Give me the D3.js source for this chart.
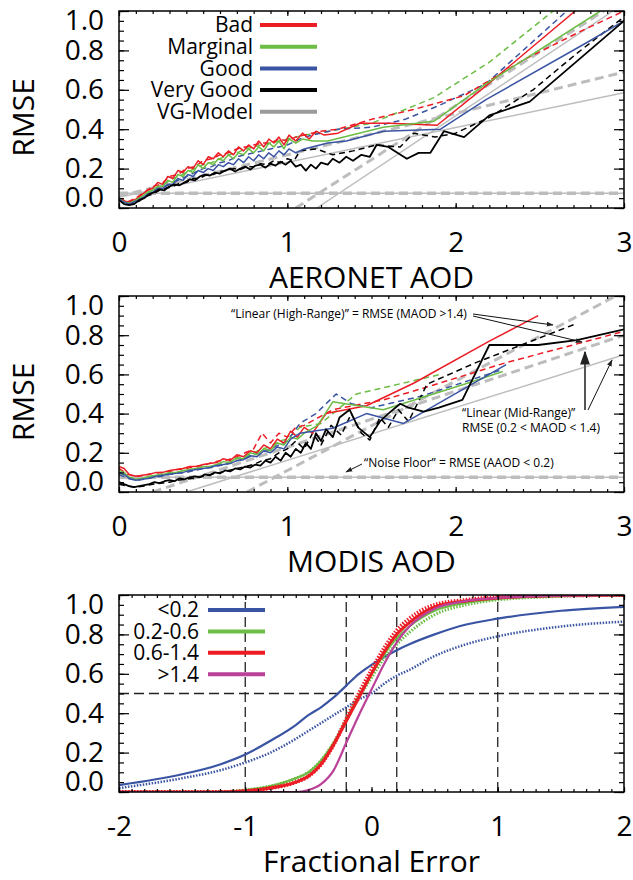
<!DOCTYPE html>
<html>
<head>
<meta charset="utf-8">
<script src="https://cdn.jsdelivr.net/npm/d3@7"></script>
<style>
  body { margin: 0; background: #fff; }
  svg { display: block; }
  text { font-family: "Open Sans", sans-serif; fill: #000; }
</style>
</head>
<body>
<div id="chart"></div>
<script>
// ---------- Panel 1: RMSE vs AERONET AOD ----------
const aeroRedSolid = [[0,0.05],[0.03,0.035],[0.06,0.03],[0.1,0.045],[0.14,0.07],[0.17,0.09],[0.2,0.1],[0.23,0.13],[0.26,0.12],[0.29,0.16],[0.32,0.15],[0.35,0.19],[0.38,0.18],[0.41,0.21],[0.44,0.2],[0.47,0.24],[0.5,0.22],[0.53,0.26],[0.56,0.25],[0.59,0.28],[0.62,0.26],[0.65,0.29],[0.68,0.27],[0.71,0.31],[0.74,0.29],[0.77,0.32],[0.8,0.3],[0.83,0.34],[0.86,0.31],[0.89,0.35],[0.92,0.33],[0.95,0.36],[0.98,0.32],[1.01,0.37],[1.05,0.34],[1.09,0.38],[1.13,0.35],[1.17,0.39],[1.22,0.37],[1.3,0.38],[1.43,0.43],[1.61,0.43],[1.89,0.42],[2.18,0.62],[2.71,1.0],[2.9,1.12]];
const aeroRedDash = [[0,0.05],[0.05,0.03],[0.1,0.05],[0.15,0.08],[0.2,0.11],[0.25,0.12],[0.3,0.16],[0.35,0.17],[0.4,0.2],[0.45,0.21],[0.5,0.24],[0.55,0.25],[0.6,0.27],[0.65,0.28],[0.7,0.3],[0.75,0.31],[0.8,0.32],[0.85,0.33],[0.9,0.33],[0.95,0.35],[1.0,0.34],[1.05,0.36],[1.1,0.37],[1.2,0.39],[1.3,0.4],[1.5,0.45],[1.75,0.5],[2.05,0.57],[2.4,0.75],[2.75,0.9],[3.0,1.0]];
const aeroGreenSolid = [[0,0.05],[0.03,0.03],[0.06,0.025],[0.1,0.04],[0.14,0.06],[0.17,0.08],[0.2,0.09],[0.23,0.11],[0.26,0.11],[0.29,0.14],[0.32,0.13],[0.35,0.17],[0.38,0.16],[0.41,0.19],[0.44,0.18],[0.47,0.22],[0.5,0.2],[0.53,0.23],[0.56,0.22],[0.59,0.25],[0.62,0.24],[0.65,0.27],[0.68,0.25],[0.71,0.28],[0.74,0.27],[0.77,0.3],[0.8,0.28],[0.83,0.31],[0.86,0.29],[0.89,0.33],[0.92,0.31],[0.95,0.34],[0.98,0.3],[1.01,0.35],[1.05,0.33],[1.09,0.35],[1.15,0.34],[1.24,0.34],[1.57,0.41],[1.87,0.44],[2.18,0.63],[2.86,1.0],[2.95,1.05]];
const aeroGreenDash = [[0,0.05],[0.05,0.03],[0.1,0.04],[0.15,0.07],[0.2,0.09],[0.25,0.11],[0.3,0.14],[0.35,0.16],[0.4,0.18],[0.45,0.2],[0.5,0.22],[0.55,0.23],[0.6,0.25],[0.65,0.27],[0.7,0.28],[0.75,0.3],[0.8,0.31],[0.85,0.32],[0.9,0.33],[0.95,0.34],[1.0,0.35],[1.1,0.37],[1.25,0.39],[1.5,0.43],[1.87,0.56],[2.2,0.74],[2.58,1.0],[2.7,1.07]];
const aeroBlueSolid = [[0,0.045],[0.03,0.03],[0.06,0.02],[0.1,0.035],[0.14,0.05],[0.17,0.07],[0.2,0.08],[0.23,0.1],[0.26,0.1],[0.29,0.12],[0.32,0.12],[0.35,0.15],[0.38,0.14],[0.41,0.17],[0.44,0.16],[0.47,0.19],[0.5,0.18],[0.53,0.2],[0.56,0.19],[0.59,0.22],[0.62,0.21],[0.65,0.23],[0.68,0.22],[0.71,0.25],[0.74,0.23],[0.77,0.26],[0.8,0.24],[0.83,0.27],[0.86,0.25],[0.89,0.28],[0.92,0.26],[0.95,0.29],[0.98,0.27],[1.01,0.3],[1.05,0.28],[1.1,0.3],[1.24,0.33],[1.35,0.34],[1.57,0.39],[1.91,0.4],[2.18,0.55],[2.78,0.84],[3.0,0.95]];
const aeroBlueDash = [[0,0.045],[0.05,0.025],[0.1,0.035],[0.15,0.06],[0.2,0.08],[0.25,0.1],[0.3,0.12],[0.35,0.14],[0.4,0.16],[0.45,0.18],[0.5,0.2],[0.55,0.21],[0.6,0.23],[0.65,0.24],[0.7,0.26],[0.75,0.27],[0.8,0.28],[0.85,0.29],[0.9,0.3],[0.95,0.31],[1.0,0.32],[1.1,0.36],[1.3,0.4],[1.5,0.41],[1.7,0.45],[1.9,0.52],[2.18,0.63],[2.66,1.0],[2.75,1.05]];
const aeroBlackSolid = [[0,0.04],[0.03,0.02],[0.06,0.015],[0.09,0.02],[0.12,0.04],[0.15,0.05],[0.18,0.07],[0.21,0.08],[0.24,0.095],[0.27,0.09],[0.3,0.11],[0.33,0.12],[0.36,0.115],[0.39,0.13],[0.42,0.145],[0.45,0.14],[0.48,0.16],[0.51,0.17],[0.54,0.165],[0.57,0.18],[0.6,0.175],[0.63,0.19],[0.66,0.2],[0.69,0.185],[0.72,0.2],[0.75,0.21],[0.78,0.195],[0.81,0.215],[0.84,0.22],[0.87,0.205],[0.9,0.225],[0.93,0.215],[0.96,0.235],[0.99,0.22],[1.02,0.24],[1.05,0.21],[1.08,0.22],[1.11,0.19],[1.14,0.22],[1.17,0.2],[1.2,0.23],[1.24,0.22],[1.27,0.25],[1.31,0.23],[1.35,0.26],[1.39,0.24],[1.44,0.27],[1.49,0.26],[1.53,0.32],[1.6,0.31],[1.71,0.25],[1.78,0.28],[1.85,0.28],[1.93,0.39],[2.05,0.36],[2.2,0.47],[2.44,0.54],[3.0,0.95]];
const aeroBlackDash = [[0,0.04],[0.04,0.02],[0.08,0.02],[0.12,0.035],[0.16,0.06],[0.2,0.07],[0.24,0.09],[0.28,0.1],[0.32,0.11],[0.36,0.125],[0.4,0.13],[0.44,0.15],[0.48,0.15],[0.52,0.17],[0.56,0.17],[0.6,0.185],[0.64,0.19],[0.68,0.2],[0.72,0.195],[0.76,0.21],[0.8,0.21],[0.84,0.225],[0.88,0.22],[0.92,0.24],[0.96,0.23],[1.0,0.25],[1.04,0.24],[1.075,0.29],[1.17,0.3],[1.27,0.27],[1.39,0.29],[1.53,0.32],[1.67,0.31],[1.75,0.38],[1.88,0.36],[2.0,0.38],[2.2,0.46],[2.46,0.6],[2.72,0.785],[3.0,0.97]];
// VG-Model fits (noise floor, mid-range, high-range)
const aeroFloor = [[0,0.075],[3,0.075]];
const aeroMidSolid = [[0,0.055],[3,0.585]];
const aeroMidDash = [[0,0.06],[3,0.69]];
const aeroHighSolid = [[1.175,0],[2.935,1.0]];
const aeroHighDash = [[1.05,0],[2.88,1.0]];

// ---------- Panel 2: RMSE vs MODIS AOD ----------
const modRedSolid = [[0,0.13],[0.03,0.12],[0.06,0.09],[0.1,0.08],[0.14,0.085],[0.18,0.09],[0.22,0.1],[0.26,0.1],[0.3,0.11],[0.34,0.115],[0.38,0.12],[0.42,0.13],[0.46,0.13],[0.5,0.14],[0.54,0.145],[0.58,0.15],[0.62,0.17],[0.66,0.16],[0.7,0.19],[0.74,0.18],[0.78,0.21],[0.82,0.2],[0.86,0.24],[0.9,0.22],[0.94,0.27],[0.98,0.25],[1.02,0.31],[1.06,0.28],[1.1,0.33],[1.15,0.3],[1.23,0.4],[1.47,0.44],[1.75,0.555],[2.2,0.77],[2.49,0.9]];
const modRedDash = [[0,0.12],[0.05,0.09],[0.1,0.08],[0.15,0.085],[0.2,0.095],[0.25,0.1],[0.3,0.105],[0.35,0.115],[0.4,0.12],[0.45,0.13],[0.5,0.135],[0.55,0.15],[0.6,0.16],[0.65,0.165],[0.7,0.18],[0.75,0.2],[0.8,0.22],[0.85,0.3],[0.9,0.25],[0.95,0.3],[1.0,0.28],[1.05,0.33],[1.1,0.34],[1.27,0.42],[1.57,0.47],[1.77,0.52],[2.3,0.66],[2.74,0.76],[3.0,0.82]];
const modGreenSolid = [[0,0.11],[0.03,0.1],[0.06,0.075],[0.1,0.065],[0.14,0.07],[0.18,0.08],[0.22,0.085],[0.26,0.09],[0.3,0.1],[0.34,0.1],[0.38,0.11],[0.42,0.115],[0.46,0.12],[0.5,0.13],[0.54,0.13],[0.58,0.14],[0.62,0.155],[0.66,0.15],[0.7,0.175],[0.74,0.17],[0.78,0.2],[0.82,0.19],[0.86,0.22],[0.9,0.21],[0.94,0.25],[0.98,0.24],[1.02,0.28],[1.06,0.27],[1.1,0.3],[1.18,0.34],[1.27,0.46],[1.57,0.42],[2.07,0.555],[2.28,0.615]];
const modGreenDash = [[0,0.1],[0.05,0.075],[0.1,0.065],[0.15,0.07],[0.2,0.08],[0.25,0.09],[0.3,0.095],[0.35,0.1],[0.4,0.11],[0.45,0.12],[0.5,0.125],[0.55,0.13],[0.6,0.145],[0.65,0.15],[0.7,0.17],[0.75,0.18],[0.8,0.2],[0.85,0.22],[0.9,0.23],[0.95,0.26],[1.0,0.27],[1.075,0.33],[1.2,0.35],[1.41,0.5],[1.91,0.6]];
const modBlueSolid = [[0,0.1],[0.03,0.09],[0.06,0.07],[0.1,0.06],[0.14,0.065],[0.18,0.07],[0.22,0.08],[0.26,0.085],[0.3,0.09],[0.34,0.095],[0.38,0.1],[0.42,0.11],[0.46,0.115],[0.5,0.12],[0.54,0.125],[0.58,0.135],[0.62,0.14],[0.66,0.145],[0.7,0.16],[0.74,0.165],[0.78,0.185],[0.82,0.18],[0.86,0.21],[0.9,0.2],[0.94,0.23],[0.98,0.22],[1.02,0.27],[1.075,0.3],[1.27,0.325],[1.47,0.4],[1.69,0.35],[2.3,0.65]];
const modBlueDash = [[0,0.09],[0.05,0.07],[0.1,0.06],[0.15,0.065],[0.2,0.075],[0.25,0.08],[0.3,0.09],[0.35,0.095],[0.4,0.1],[0.45,0.11],[0.5,0.12],[0.55,0.125],[0.6,0.135],[0.65,0.145],[0.7,0.16],[0.75,0.17],[0.8,0.19],[0.85,0.2],[0.9,0.22],[0.95,0.24],[1.0,0.26],[1.075,0.35],[1.17,0.4],[1.29,0.5],[1.38,0.45],[1.5,0.43],[1.8,0.49],[2.26,0.62]];
const modBlackSolid = [[0,0.05],[0.03,0.04],[0.06,0.03],[0.09,0.025],[0.12,0.03],[0.15,0.035],[0.18,0.04],[0.21,0.05],[0.24,0.045],[0.27,0.055],[0.3,0.06],[0.33,0.055],[0.36,0.07],[0.39,0.065],[0.42,0.075],[0.45,0.08],[0.48,0.075],[0.51,0.09],[0.54,0.085],[0.57,0.1],[0.6,0.095],[0.63,0.11],[0.66,0.105],[0.69,0.12],[0.72,0.115],[0.75,0.13],[0.78,0.125],[0.81,0.14],[0.84,0.135],[0.87,0.16],[0.9,0.15],[0.93,0.18],[0.96,0.16],[0.99,0.2],[1.02,0.18],[1.05,0.22],[1.08,0.2],[1.11,0.25],[1.14,0.22],[1.17,0.3],[1.2,0.26],[1.23,0.32],[1.27,0.28],[1.31,0.38],[1.37,0.42],[1.42,0.33],[1.49,0.28],[1.55,0.36],[1.6,0.4],[1.67,0.45],[1.72,0.43],[1.81,0.41],[1.9,0.43],[2.04,0.47],[2.2,0.75],[2.49,0.75],[2.72,0.775],[3.0,0.83]];
const modBlackDash = [[0,0.04],[0.05,0.03],[0.1,0.025],[0.15,0.03],[0.2,0.04],[0.25,0.045],[0.3,0.05],[0.35,0.06],[0.4,0.065],[0.45,0.07],[0.5,0.08],[0.55,0.09],[0.6,0.1],[0.65,0.11],[0.7,0.12],[0.75,0.13],[0.8,0.14],[0.85,0.16],[0.9,0.17],[0.95,0.2],[1.0,0.22],[1.05,0.26],[1.1,0.22],[1.15,0.3],[1.2,0.24],[1.26,0.34],[1.32,0.29],[1.38,0.4],[1.44,0.3],[1.49,0.265],[1.55,0.38],[1.6,0.33],[1.66,0.42],[1.72,0.36],[1.83,0.55],[2.12,0.66],[2.72,0.86]];
const modFloor = [[0,0.075],[3,0.075]];
const modMidSolid = [[0.4,0],[3,0.70]];
const modMidDash = [[0.2,0],[3,0.8]];
const modHighDash = [[0.76,0],[2.95,1.0]];

// ---------- Panel 3: cumulative distribution of fractional error ----------
const feX = [-2,-1.5,-1.2,-1,-0.8,-0.6,-0.5,-0.4,-0.3,-0.2,-0.1,0,0.1,0.2,0.3,0.5,0.75,1,1.5,2];
const cdfLowSolid   = [0.035,0.09,0.14,0.19,0.26,0.34,0.39,0.43,0.48,0.54,0.6,0.645,0.685,0.72,0.75,0.8,0.85,0.88,0.92,0.94];
const cdfLowDot     = [0.02,0.07,0.11,0.15,0.2,0.27,0.31,0.35,0.39,0.43,0.47,0.5,0.55,0.59,0.62,0.69,0.75,0.79,0.84,0.865];
const cdfMidSolid   = [0,0,0,0.01,0.03,0.07,0.1,0.16,0.25,0.37,0.49,0.6,0.7,0.78,0.84,0.92,0.96,0.98,0.995,1.0];
const cdfMidDot     = [0,0,0,0.01,0.03,0.07,0.1,0.16,0.25,0.36,0.48,0.58,0.68,0.75,0.81,0.9,0.95,0.975,0.993,1.0];
const cdfHighSolid  = [0,0,0,0.005,0.02,0.05,0.08,0.14,0.24,0.36,0.48,0.6,0.71,0.8,0.86,0.94,0.97,0.985,0.997,1.0];
const cdfHighDot    = [0,0,0,0.005,0.02,0.05,0.08,0.14,0.24,0.37,0.5,0.62,0.73,0.82,0.88,0.95,0.975,0.99,0.998,1.0];
const cdfVHighSolid = [0,0,0,0,0,0,0.01,0.04,0.11,0.25,0.39,0.52,0.65,0.76,0.84,0.93,0.97,0.985,0.997,1.0];
const feRefX = [-1,-0.2,0.2,1];
const feRefY = [0.5];

const yTicks = [0,0.2,0.4,0.6,0.8,1.0];
const legendTop = ['Bad','Marginal','Good','Very Good','VG-Model'];
const legendBottom = ['<0.2','0.2-0.6','0.6-1.4','>1.4'];

const C = { red: '#ec1c24', green: '#6cbd45', blue: '#3a54a4', black: '#000', magenta: '#bb4199', gray: '#bdbdbd', grayLeg: '#9a9a9a' };

const W = 633, H = 880;
const svg = d3.select('#chart').append('svg').attr('width', W).attr('height', H);
svg.append('rect').attr('width', W).attr('height', H).attr('fill', '#fff');

svg.append('defs').append('marker')
  .attr('id', 'arr').attr('viewBox', '0 0 10 10').attr('refX', 9).attr('refY', 5)
  .attr('markerWidth', 7).attr('markerHeight', 7).attr('orient', 'auto-start-reverse')
  .append('path').attr('d', 'M0,1.5 L10,5 L0,8.5 z').attr('fill', '#222');

const L = 119, R = 624;
const tickFont = 28;

function panel(id, top, bottom, xDomain, xMajor, xTitle) {
  const x = d3.scaleLinear().domain(xDomain).range([L, R]);
  const y = d3.scaleLinear().domain([0, 1]).range([bottom, top]);
  const g = svg.append('g');
  svg.select('defs').append('clipPath').attr('id', 'clip' + id)
    .append('rect').attr('x', L).attr('y', top).attr('width', R - L).attr('height', bottom - top);
  const plot = g.append('g').attr('clip-path', `url(#clip${id})`);

  const xMinor = d3.range(xDomain[0], xDomain[1] + 1e-9, 0.1).map(v => +v.toFixed(2));
  const yMinor = d3.range(0, 1.0001, 0.05).map(v => +v.toFixed(2));
  const styleAx = ax => { ax.select('.domain').remove(); ax.selectAll('line').attr('stroke', '#000').attr('stroke-width', 1.2); };

  // minor ticks
  g.append('g').attr('transform', `translate(0,${bottom})`).call(d3.axisBottom(x).tickValues(xMinor).tickSize(-3).tickFormat('')).call(styleAx);
  g.append('g').attr('transform', `translate(0,${top})`).call(d3.axisTop(x).tickValues(xMinor).tickSize(-3).tickFormat('')).call(styleAx);
  g.append('g').attr('transform', `translate(${L},0)`).call(d3.axisLeft(y).tickValues(yMinor).tickSize(-5).tickFormat('')).call(styleAx);
  g.append('g').attr('transform', `translate(${R},0)`).call(d3.axisRight(y).tickValues(yMinor).tickSize(-5).tickFormat('')).call(styleAx);
  // major ticks + labels
  g.append('g').attr('transform', `translate(0,${bottom})`)
    .call(d3.axisBottom(x).tickValues(xMajor).tickSize(-5).tickPadding(24).tickFormat(d => String(d)))
    .call(styleAx)
    .call(ax => ax.selectAll('text').attr('font-size', tickFont).attr('fill', '#000'));
  g.append('g').attr('transform', `translate(0,${top})`).call(d3.axisTop(x).tickValues(xMajor).tickSize(-5).tickFormat('')).call(styleAx);
  g.append('g').attr('transform', `translate(${L},0)`)
    .call(d3.axisLeft(y).tickValues(yTicks).tickSize(-10).tickPadding(15).tickFormat(d3.format('.1f')))
    .call(styleAx)
    .call(ax => ax.selectAll('text').attr('font-size', tickFont).attr('fill', '#000')
      .attr('y', d => d === 1 ? 10 : d === 0 ? -10 : 0));
  g.append('g').attr('transform', `translate(${R},0)`).call(d3.axisRight(y).tickValues(yTicks).tickSize(-10).tickFormat('')).call(styleAx);

  g.append('rect').attr('x', L).attr('y', top).attr('width', R - L).attr('height', bottom - top)
    .attr('fill', 'none').attr('stroke', '#000').attr('stroke-width', 1.5);

  g.append('text').attr('x', (L + R) / 2).attr('y', bottom + 80)
    .attr('text-anchor', 'middle').attr('font-size', 30).text(xTitle);
  return { x, y, g, plot };
}

function drawLine(p, data, color, width, dash) {
  const line = d3.line().x(d => p.x(d[0])).y(d => p.y(d[1]));
  p.plot.append('path').datum(data).attr('d', line)
    .attr('fill', 'none').attr('stroke', color).attr('stroke-width', width)
    .attr('stroke-dasharray', dash || null).attr('stroke-linejoin', 'round');
}

function yTitle(top, bottom) {
  svg.append('text').attr('transform', `translate(34,${(top + bottom) / 2 + 8}) rotate(-90)`)
    .attr('text-anchor', 'middle').attr('font-size', 30).text('RMSE');
}

// ---- Panel 1 ----
const p1 = panel(1, 11, 208, [0, 3], [0, 1, 2, 3], 'AERONET AOD');
yTitle(11, 208);
drawLine(p1, aeroFloor, C.gray, 3.5, '9,5');
drawLine(p1, aeroFloor, C.gray, 1.5);
drawLine(p1, aeroMidDash, C.gray, 3, '9,5');
drawLine(p1, aeroHighDash, C.gray, 3, '9,5');
drawLine(p1, aeroMidSolid, C.gray, 1.5);
drawLine(p1, aeroHighSolid, C.gray, 1.5);
[[aeroGreenDash, C.green], [aeroBlueDash, C.blue], [aeroRedDash, C.red], [aeroBlackDash, C.black]]
  .forEach(([d, c]) => drawLine(p1, d, c, 1.5, '6,4'));
[[aeroRedSolid, C.red], [aeroGreenSolid, C.green], [aeroBlueSolid, C.blue]]
  .forEach(([d, c]) => drawLine(p1, d, c, 1.5));
drawLine(p1, aeroBlackSolid, C.black, 1.8);

const legTopColors = [C.red, C.green, C.blue, C.black, C.grayLeg];
legendTop.forEach((t, i) => {
  const yy = 25 + i * 21.7;
  svg.append('text').attr('x', 253).attr('y', yy).attr('dy', '0.35em')
    .attr('text-anchor', 'end').attr('font-size', 21).text(t);
  svg.append('line').attr('x1', 260).attr('x2', 317).attr('y1', yy).attr('y2', yy)
    .attr('stroke', legTopColors[i]).attr('stroke-width', 4);
});

// ---- Panel 2 ----
const p2 = panel(2, 296, 492, [0, 3], [0, 1, 2, 3], 'MODIS AOD');
yTitle(296, 492);
drawLine(p2, modFloor, C.gray, 3.5, '9,5');
drawLine(p2, modFloor, C.gray, 1.5);
drawLine(p2, modMidDash, C.gray, 3, '9,5');
drawLine(p2, modHighDash, C.gray, 3, '9,5');
drawLine(p2, modMidSolid, C.gray, 1.5);
[[modGreenDash, C.green], [modBlueDash, C.blue], [modRedDash, C.red], [modBlackDash, C.black]]
  .forEach(([d, c]) => drawLine(p2, d, c, 1.5, '6,4'));
[[modRedSolid, C.red], [modGreenSolid, C.green], [modBlueSolid, C.blue]]
  .forEach(([d, c]) => drawLine(p2, d, c, 1.5));
drawLine(p2, modBlackSolid, C.black, 1.8);

// annotations
const ann = svg.append('g');
ann.append('text').attr('x', 231).attr('y', 318).attr('font-size', 12).text('\u201CLinear (High-Range)\u201D = RMSE (MAOD >1.4)');
ann.append('text').attr('x', 462).attr('y', 417).attr('font-size', 12).text('\u201CLinear (Mid-Range)\u201D');
ann.append('text').attr('x', 462).attr('y', 432).attr('font-size', 12).text('RMSE (0.2 < MAOD < 1.4)');
ann.append('text').attr('x', 364).attr('y', 467).attr('font-size', 12).text('\u201CNoise Floor\u201D = RMSE (AAOD < 0.2)');
const arrows = [
  [473, 314, 553, 325, 1], [473, 316, 582, 342, 1],
  [585, 410, 585, 352, 2], [588, 410, 612, 360, 1],
  [362, 464, 346, 472, 1]
];
arrows.forEach(a => ann.append('line').attr('x1', a[0]).attr('y1', a[1]).attr('x2', a[2]).attr('y2', a[3])
  .attr('stroke', a[4] === 2 ? '#555' : '#111').attr('stroke-width', a[4]).attr('marker-end', 'url(#arr)'));

// ---- Panel 3 ----
const p3 = panel(3, 595, 792, [-2, 2], [-2, -1, 0, 1, 2], 'Fractional Error');
feRefX.forEach(v => drawLine(p3, [[v, 0], [v, 1]], '#222', 1.3, '10,5'));
feRefY.forEach(v => drawLine(p3, [[-2, v], [2, v]], '#222', 1.3, '10,5'));
const cdf = vals => feX.map((v, i) => [v, vals[i]]);
function drawCurve(vals, color, width, dash) {
  const line = d3.line().x(d => p3.x(d[0])).y(d => p3.y(d[1])).curve(d3.curveMonotoneX);
  p3.plot.append('path').datum(cdf(vals)).attr('d', line)
    .attr('fill', 'none').attr('stroke', color).attr('stroke-width', width)
    .attr('stroke-dasharray', dash || null);
}
drawCurve(cdfLowDot, C.blue, 2.5, '1.5,1.5');
drawCurve(cdfLowSolid, C.blue, 2.2);
drawCurve(cdfMidDot, C.green, 3, '1.5,1.5');
drawCurve(cdfMidSolid, C.green, 2.2);
drawCurve(cdfHighDot, C.red, 4, '1.5,1.5');
drawCurve(cdfHighSolid, C.red, 3);
drawCurve(cdfVHighSolid, C.magenta, 2.2);

const legBotColors = [C.blue, C.green, C.red, C.magenta];
legendBottom.forEach((t, i) => {
  const yy = 610 + i * 21.4;
  svg.append('text').attr('x', 199).attr('y', yy).attr('dy', '0.35em')
    .attr('text-anchor', 'end').attr('font-size', 21).text(t);
  svg.append('line').attr('x1', 208).attr('x2', 265).attr('y1', yy).attr('y2', yy)
    .attr('stroke', legBotColors[i]).attr('stroke-width', 4);
});
</script>
</body>
</html>
